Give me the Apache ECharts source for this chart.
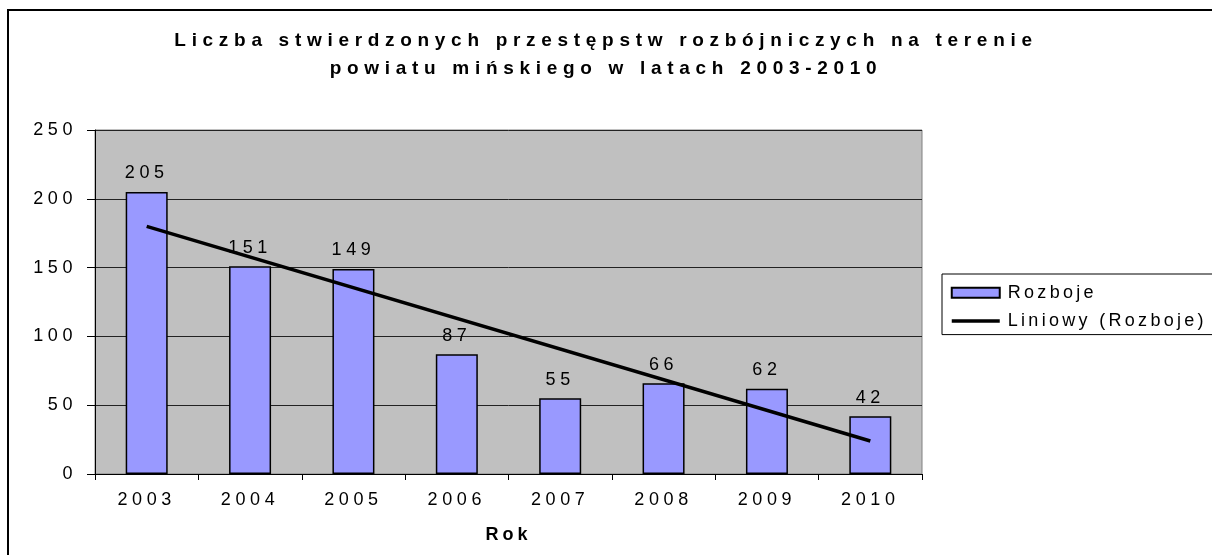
<!DOCTYPE html>
<html>
<head>
<meta charset="utf-8">
<script src="https://cdn.jsdelivr.net/npm/echarts@6/dist/echarts.min.js"></script>
<style>
  html, body { margin: 0; padding: 0; background: #fff; }
  #chart { width: 1212px; height: 555px; }
</style>
</head>
<body>
<div id="chart"></div>
<script>
// dane z wykresu
const years = ['2003', '2004', '2005', '2006', '2007', '2008', '2009', '2010']
const robberies = [205, 151, 149, 87, 55, 66, 62, 42]
// linia trendu (Liniowy) - odczytane końce z obrazka
const trendYears = ['2003', '2010']
const trendValues = [180, 24]
const yTicks = { min: 0, max: 250, interval: 50 }

// rozstrzelony tekst jak w Excelu
function spacingFor(font, text) {
  text = String(text || '')
  if (/bold/.test(font)) return text.length > 10 ? '5.7px' : '4px'
  if (/^[\d\s.-]+$/.test(text)) return '4.6px'
  return '3.3px'
}
;['fillText', 'strokeText', 'measureText'].forEach(fn => {
  const orig = CanvasRenderingContext2D.prototype[fn]
  CanvasRenderingContext2D.prototype[fn] = function (text) {
    if ('letterSpacing' in this) this.letterSpacing = spacingFor(this.font, text)
    return orig.apply(this, arguments)
  }
})

const font = 'Liberation Sans, Arial, sans-serif'
let myChart = echarts.init(document.getElementById('chart'), null, { renderer: 'canvas' })

const options = {
  animation: false,
  backgroundColor: '#fff',
  textStyle: { fontFamily: font },
  title: {
    text: 'Liczba stwierdzonych przestępstw rozbójniczych na terenie\npowiatu mińskiego w latach 2003-2010',
    left: 'center',
    top: 22,
    textStyle: { fontSize: 19, fontWeight: 'bold', color: '#000', lineHeight: 28, fontFamily: font }
  },
  graphic: [{
    type: 'rect',
    z: -10,
    shape: { x: 8, y: 10, width: 1230, height: 580 },
    style: { fill: null, stroke: '#000', lineWidth: 2 }
  }],
  legend: {
    orient: 'vertical',
    left: 942,
    top: 274,
    padding: [8, 40, 3, 8],
    itemGap: 7,
    itemWidth: 48,
    itemHeight: 10,
    borderColor: '#000',
    borderWidth: 1,
    backgroundColor: '#fff',
    textStyle: { fontSize: 18, color: '#000', fontFamily: font, padding: [0, 0, 0, 3] },
    data: [
      { name: 'Rozboje', icon: 'rect' },
      {
        name: 'Liniowy (Rozboje)',
        itemStyle: { color: 'transparent', borderWidth: 0, opacity: 0 },
        lineStyle: { color: '#000', width: 3.5 }
      }
    ]
  },
  grid: {
    left: 95,
    top: 130,
    right: 290,
    bottom: 81,
    show: true,
    backgroundColor: '#c0c0c0',
    borderColor: '#808080',
    borderWidth: 1
  },
  xAxis: {
    type: 'category',
    data: years,
    name: 'Rok',
    nameLocation: 'middle',
    nameGap: 50,
    nameTextStyle: { fontSize: 18, fontWeight: 'bold', color: '#000', fontFamily: font },
    axisLine: { lineStyle: { color: '#000', width: 1 } },
    axisTick: { show: true, length: 6, alignWithLabel: false, lineStyle: { color: '#000' } },
    axisLabel: { fontSize: 18, color: '#000', margin: 15, fontFamily: font }
  },
  yAxis: {
    type: 'value',
    min: yTicks.min,
    max: yTicks.max,
    interval: yTicks.interval,
    axisLine: { show: true, lineStyle: { color: '#000', width: 1 } },
    axisTick: { show: true, length: 8, lineStyle: { color: '#000' } },
    axisLabel: { fontSize: 18, color: '#000', margin: 18, fontFamily: font },
    splitLine: { show: true, lineStyle: { color: '#222', width: 1 } }
  },
  series: [
    {
      name: 'Rozboje',
      type: 'bar',
      data: robberies,
      barWidth: 42,
      itemStyle: { color: '#9999ff', borderColor: '#000', borderWidth: 1.5 },
      label: {
        show: true,
        position: 'top',
        distance: 8,
        fontSize: 18,
        color: '#000',
        fontFamily: font
      }
    },
    {
      name: 'Liniowy (Rozboje)',
      type: 'line',
      data: trendYears.map((y, i) => [y, trendValues[i]]),
      symbol: 'none',
      lineStyle: { color: '#000', width: 3.5 },
      itemStyle: { color: '#000' },
      z: 5
    }
  ]
}

myChart.setOption(options)
window.onresize = function () {
  myChart.resize()
}
</script>
</body>
</html>
